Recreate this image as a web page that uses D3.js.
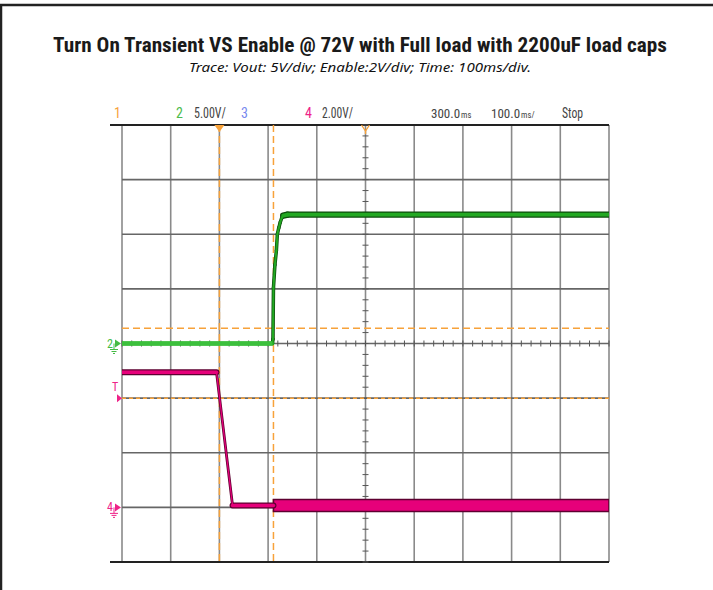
<!DOCTYPE html>
<html>
<head>
<meta charset="utf-8">
<script src="https://cdn.jsdelivr.net/npm/d3@7"></script>
<style>
  html, body { margin: 0; padding: 0; background: #fff; }
  svg { display: block; }
</style>
</head>
<body>
<svg id="chart" width="713" height="590"></svg>
<script>
// ---------------- data ----------------
const titleText = "Turn On Transient VS Enable @ 72V with Full load with 2200uF load caps";
const subtitleText = "Trace: Vout: 5V/div; Enable:2V/div; Time: 100ms/div.";

// time axis (ms), trigger at 0, 100 ms/div, 10 divisions
const timeDomain = [-200, 800];
const timeDivMs = 100;
// vertical: 8 divisions
const vDivs = 8;

// channel 2 : Vout (5 V/div), ground at division 4
const voutScale = 5;
const voutGroundDiv = 4;
const voutT = [-200, 109, 110, 111, 114, 117, 119, 122, 125, 128, 131, 140, 800];
const voutV = [0, 0, 0.4, 5.1, 7.2, 8.5, 10.0, 10.6, 11.1, 11.5, 11.7, 11.8, 11.8];

// channel 4 : Enable (2 V/div), ground at division 1
const enScale = 2;
const enGroundDiv = 1;
const enableT = [-200, -6, 27, 111];
const enableV = [4.95, 4.95, 0.07, 0.07];
// noisy band on Enable after Vout rises
const enBandT = [111, 800];
const enBandLo = [-0.15, -0.15];
const enBandHi = [0.29, 0.29];

// cursors / trigger
const cursorTimeMs = 111;
const cursorVout = 1.4;
const triggerLevelEn = 4.0;

// header labels (number part, small unit part)
const headerTexts = ["1", "2", "5.00V/", "3", "4", "2.00V/", "300.0", "100.0", "Stop"];
const headerUnits = ["", "", "", "", "", "", "ms", "ms/", ""];

// ---------------- layout ----------------
const svg = d3.select("#chart");
const L = 122, R = 609, T = 125, B = 562;
const x = d3.scaleLinear().domain(timeDomain).range([L, R]);
const yDiv = d3.scaleLinear().domain([0, vDivs]).range([B, T]);
const yVout = v => yDiv(voutGroundDiv + v / voutScale);
const yEn = v => yDiv(enGroundDiv + v / enScale);

const narrow = "'Liberation Sans Narrow','Arial Narrow','Roboto Condensed',Roboto,sans-serif";
const C = {
  orange: "#f7a23a", green: "#22a822", greenDark: "#0d4d0d", greenLight: "#3cc03c",
  pink: "#e6007a", pinkDark: "#5e0030", grid: "#8a8a8a"
};

svg.append("defs").append("clipPath").attr("id", "plotclip")
  .append("rect").attr("x", L).attr("y", T).attr("width", R - L).attr("height", B - T);

// outer frame lines
svg.append("line").attr("x1", 0).attr("x2", 713).attr("y1", 5).attr("y2", 5)
  .attr("stroke", "#222").attr("stroke-width", 2.5);
svg.append("line").attr("x1", 1).attr("x2", 1).attr("y1", 4).attr("y2", 590)
  .attr("stroke", "#222").attr("stroke-width", 2.5);

// title
svg.append("text").attr("x", 360).attr("y", 52).attr("text-anchor", "middle")
  .attr("font-family", narrow).attr("font-weight", "bold").attr("font-size", 20)
  .attr("fill", "#1a1a1a").attr("textLength", 614).attr("lengthAdjust", "spacingAndGlyphs")
  .text(titleText);
svg.append("text").attr("x", 360).attr("y", 72).attr("text-anchor", "middle")
  .attr("font-family", "'Noto Sans',sans-serif").attr("font-style", "italic").attr("font-size", 12.5)
  .attr("fill", "#111").attr("textLength", 342).attr("lengthAdjust", "spacingAndGlyphs")
  .text(subtitleText);

// header
const hdr = svg.append("g").attr("font-family", narrow).attr("font-size", 14);
const hx = [114, 176, 194, 241, 305, 322, 431, 491, 562];
const hw = [0, 0, 32, 0, 0, 31, 0, 0, 21];
const hc = [C.orange, "#4cbb4c", "#444", "#7788ee", "#ee2288", "#444", "#444", "#444", "#444"];
headerTexts.forEach((t, i) => {
  const tx = hdr.append("text").attr("x", hx[i]).attr("y", 118).attr("fill", hc[i]).text(t);
  if (hw[i]) tx.attr("textLength", hw[i]).attr("lengthAdjust", "spacingAndGlyphs");
  if (headerUnits[i]) {
    tx.attr("font-size", 13);
    const w = tx.node().getBBox().width;
    hdr.append("text").attr("x", hx[i] + w + 1).attr("y", 118).attr("font-size", 8.5)
      .attr("fill", hc[i]).text(headerUnits[i]);
  }
});

// ---------------- grid ----------------
const g = svg.append("g");
const xTicks = d3.range(timeDomain[0], timeDomain[1] + 1, timeDivMs);
g.selectAll(".vg").data(xTicks).join("line")
  .attr("x1", d => x(d)).attr("x2", d => x(d)).attr("y1", T).attr("y2", B)
  .attr("stroke", C.grid).attr("stroke-width", 1.6);
g.selectAll(".hg").data(d3.range(0, vDivs + 1)).join("line")
  .attr("x1", d => (d === 0 || d === vDivs) ? 110 : L).attr("x2", R)
  .attr("y1", d => yDiv(d)).attr("y2", d => yDiv(d))
  .attr("stroke", d => (d === 0 || d === vDivs) ? "#222" : "#666")
  .attr("stroke-width", d => (d === 0 || d === vDivs) ? 1.8 : 1.6);
// minor ticks on center lines
const cx = x((timeDomain[0] + timeDomain[1]) / 2), cy = yDiv(vDivs / 2);
g.selectAll(".tx").data(d3.range(timeDomain[0], timeDomain[1] + 1, timeDivMs / 5)).join("line")
  .attr("x1", d => x(d)).attr("x2", d => x(d)).attr("y1", cy - 3).attr("y2", cy + 3)
  .attr("stroke", "#555").attr("stroke-width", 1);
g.selectAll(".ty").data(d3.range(0, vDivs + 0.01, 0.2)).join("line")
  .attr("x1", cx - 3).attr("x2", cx + 3).attr("y1", d => yDiv(d)).attr("y2", d => yDiv(d))
  .attr("stroke", "#555").attr("stroke-width", 1);

// cursors (orange dashed)
const dash = "7,4";
g.append("line").attr("x1", x(0)).attr("x2", x(0)).attr("y1", T).attr("y2", B)
  .attr("stroke", C.orange).attr("stroke-width", 1.5).attr("stroke-dasharray", dash);
g.append("line").attr("x1", x(cursorTimeMs)).attr("x2", x(cursorTimeMs)).attr("y1", T).attr("y2", B)
  .attr("stroke", C.orange).attr("stroke-width", 1.5).attr("stroke-dasharray", dash);
g.append("line").attr("x1", L).attr("x2", R).attr("y1", yVout(cursorVout)).attr("y2", yVout(cursorVout))
  .attr("stroke", C.orange).attr("stroke-width", 1.5).attr("stroke-dasharray", dash);
g.append("line").attr("x1", L).attr("x2", R).attr("y1", yEn(triggerLevelEn)).attr("y2", yEn(triggerLevelEn))
  .attr("stroke", C.orange).attr("stroke-width", 1.5).attr("stroke-dasharray", "4,3");

// top markers
svg.append("path").attr("d", `M${x(0) - 5},${T} L${x(0) + 5},${T} L${x(0)},${T + 7} Z`).attr("fill", C.orange);
svg.append("path").attr("d", `M${cx - 4},${T} L${cx},${T + 6} L${cx + 4},${T} M${cx},${T + 6} L${cx},${T + 9}`)
  .attr("fill", "none").attr("stroke", C.orange).attr("stroke-width", 1.3);

// ---------------- traces ----------------
const traces = svg.append("g").attr("clip-path", "url(#plotclip)");
// draw each segment; steep (edge) segments thinner than flat ones, like a scope trace
function drawTrace(pts, dark, light, wFlat, wSteep, skipDarkBefore) {
  const segs = d3.pairs(pts);
  const steep = ([a, b]) => Math.abs(b[1] - a[1]) > Math.abs(x(b[0]) - x(a[0]));
  const seg = traces.append("g").attr("stroke-linecap", "round");
  seg.selectAll(".d").data(segs.filter(s => skipDarkBefore === undefined || s[0][0] >= skipDarkBefore)).join("line")
    .attr("x1", s => x(s[0][0])).attr("y1", s => s[0][1]).attr("x2", s => x(s[1][0])).attr("y2", s => s[1][1])
    .attr("stroke", dark).attr("stroke-width", s => steep(s) ? wSteep + 1.5 : wFlat + 2.5);
  seg.selectAll(".l").data(segs).join("line")
    .attr("x1", s => x(s[0][0])).attr("y1", s => s[0][1]).attr("x2", s => x(s[1][0])).attr("y2", s => s[1][1])
    .attr("stroke", light).attr("stroke-width", s => steep(s) ? wSteep : wFlat);
}
const voutPts = voutT.map((t, i) => [t, yVout(voutV[i])]);
const enPts = enableT.map((t, i) => [t, yEn(enableV[i])]);

// enable band
const area = d3.area().x(d => x(d.t)).y0(d => yEn(d.lo)).y1(d => yEn(d.hi));
const bandData = enBandT.map((t, i) => ({ t, lo: enBandLo[i], hi: enBandHi[i] }));
traces.append("path").datum(bandData).attr("d", area).attr("fill", C.pink)
  .attr("stroke", C.pinkDark).attr("stroke-width", 1.6);

drawTrace(enPts, C.pinkDark, C.pink, 3.5, 1.3);
drawTrace(voutPts, C.greenDark, C.green, 3.8, 2, 109);
// pre-rise Vout in lighter green
traces.append("path").datum(voutPts.filter(d => d[0] <= 109))
  .attr("d", d3.line().x(d => x(d[0])).y(d => d[1]))
  .attr("fill", "none").attr("stroke", C.greenLight).attr("stroke-width", 4.5);

// ---------------- left markers ----------------
function groundMarker(yy, label, color) {
  const m = svg.append("g").attr("fill", color).attr("stroke", color);
  m.append("text").attr("x", 107).attr("y", yy + 4).attr("font-family", narrow)
    .attr("font-size", 12).attr("stroke", "none").text(label);
  m.append("path").attr("d", `M115,${yy - 4} L121,${yy} L115,${yy + 4} Z`).attr("stroke", "none");
  m.append("path").attr("d", `M114,${yy} L114,${yy + 6} M110,${yy + 6} L118,${yy + 6} M111.5,${yy + 8} L116.5,${yy + 8} M113,${yy + 10} L115,${yy + 10}`)
    .attr("fill", "none").attr("stroke-width", 1);
}
groundMarker(yVout(0), "2", "#44bb44");
groundMarker(yEn(0), "4", "#ee2288");
svg.append("text").attr("x", 115).attr("y", yEn(triggerLevelEn) - 7).attr("text-anchor", "middle")
  .attr("font-family", narrow).attr("font-size", 12).attr("fill", "#ee2288").text("T");
const ty = yEn(triggerLevelEn);
svg.append("path").attr("d", `M117,${ty - 4} L122,${ty} L117,${ty + 4} Z`).attr("fill", "#ee2288");
</script>
</body>
</html>
